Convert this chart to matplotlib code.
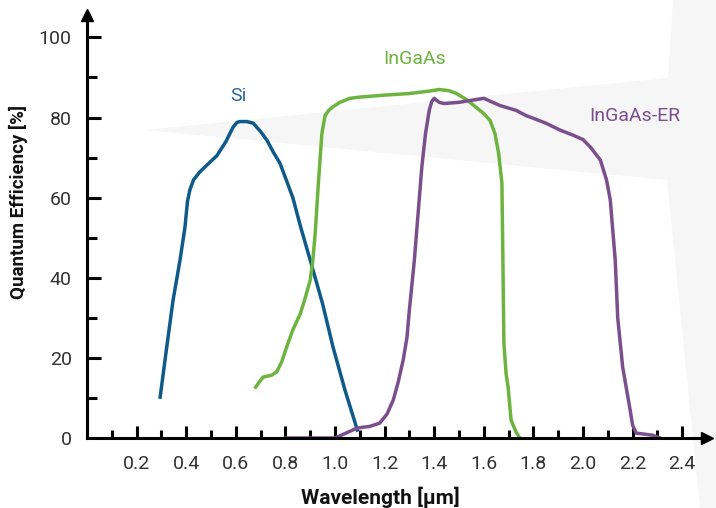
"""Quantum efficiency curves for Si, InGaAs and InGaAs-ER detectors."""

import matplotlib
matplotlib.use("Agg")
import matplotlib.pyplot as plt
from matplotlib.patches import Polygon

plt.rcParams["font.family"] = ["Roboto", "DejaVu Sans"]

# Curves (wavelength in um, QE in %)
si_wl = [0.295, 0.32, 0.347, 0.375, 0.395, 0.405, 0.415, 0.43, 0.456, 0.49, 0.524, 0.56,
         0.589, 0.605, 0.617, 0.645, 0.67, 0.70, 0.726, 0.75, 0.778, 0.80, 0.83,
         0.86, 0.90, 0.95, 0.992, 1.04, 1.09]
si_qe = [10.2, 22, 34.4, 44.4, 52.6, 59, 62, 64.5, 66.5, 68.5, 70.5, 74,
         77.6, 78.8, 79, 79, 78.6, 76.5, 74.3, 71.5, 68.6, 65, 60,
         53, 44.4, 33.5, 22.7, 12, 2]

ingaas_wl = [0.68, 0.695, 0.71, 0.745, 0.765, 0.785, 0.805, 0.83, 0.86, 0.88, 0.90,
             0.91, 0.92, 0.933, 0.947, 0.96, 0.975, 0.99, 1.02, 1.06, 1.10, 1.20, 1.30,
             1.38, 1.42, 1.46, 1.49, 1.53, 1.56, 1.60, 1.625, 1.645, 1.66, 1.673,
             1.677, 1.681, 1.69, 1.698, 1.71, 1.73, 1.745]
ingaas_qe = [12.7, 14, 15.2, 15.7, 16.5, 19, 22.7, 27, 31, 35, 39.4,
             44, 51, 63.6, 76, 80.5, 81.8, 82.6, 83.8, 84.8, 85.1, 85.6, 86,
             86.6, 87, 86.7, 86, 84.5, 83, 81, 79.3, 76, 71, 63.6,
             44.4, 23.7, 16, 12.7, 4.5, 1.5, 0]

er_wl = [0.80, 0.90, 1.00, 1.09, 1.14, 1.18, 1.21, 1.235, 1.255, 1.275, 1.29, 1.30,
         1.32, 1.335, 1.35, 1.365, 1.38, 1.39, 1.40, 1.42, 1.44, 1.50, 1.55, 1.60,
         1.665, 1.73, 1.77, 1.80, 1.85, 1.91, 1.96, 2.00, 2.03, 2.07, 2.095,
         2.11, 2.13, 2.14, 2.16, 2.19, 2.20, 2.215, 2.23, 2.28, 2.31]
er_qe = [0, 0, 0, 2.5, 2.9, 3.7, 6, 9.5, 14, 19.5, 25, 32,
         44.4, 56, 67.6, 76, 81.8, 84, 84.8, 83.8, 83.5, 83.8, 84.3, 84.8,
         83, 81.8, 80.5, 79.8, 78.6, 76.8, 75.6, 74.5, 72.6, 69.4, 64.4,
         59.4, 44.4, 30, 17.7, 7, 3.2, 1.2, 1.1, 0.7, 0]

x_ticks = [0.2, 0.4, 0.6, 0.8, 1.0, 1.2, 1.4, 1.6, 1.8, 2.0, 2.2, 2.4]
x_minor = [0.1, 0.3, 0.5, 0.7, 0.9, 1.1, 1.3, 1.5, 1.7, 1.9, 2.1, 2.3]
y_ticks = [20, 40, 60, 80, 100]
y_minor = [10, 30, 50, 70, 90]

blue = "#0d5a8b"
green = "#6db33f"
purple = "#7b4f8e"

W, H = 716, 508
fig = plt.figure(figsize=(W / 100, H / 100), dpi=100)

# faint grey backdrop shapes (figure pixels, y from top)
bg = [(145, 130), (668, 78), (673, 0), (716, 0), (716, 508), (700, 508), (667, 180)]
fig.patches.append(Polygon([(x / W, 1 - y / H) for x, y in bg], closed=True,
                           transform=fig.transFigure, facecolor="#f6f6f6",
                           edgecolor="none", zorder=-5))

ax = fig.add_axes([87 / W, 70 / H, 620 / W, 423 / H])
ax.patch.set_alpha(0)
ax.set_xlim(0, 2.5)
ax.set_ylim(0, 105.6)

ax.plot(si_wl, si_qe, color=blue, lw=2.5, solid_joinstyle="round")
ax.plot(ingaas_wl, ingaas_qe, color=green, lw=2.5, solid_joinstyle="round")
ax.plot(er_wl, er_qe, color=purple, lw=2.5, solid_joinstyle="round")

ax.text(0.61, 85.5, "Si", color="#2a6a9a", fontsize=14,
        ha="center", va="center")
ax.text(1.32, 94.5, "InGaAs", color=green, fontsize=14,
        ha="center", va="center")
ax.text(2.21, 80.5, "InGaAs-ER", color=purple, fontsize=14,
        ha="center", va="center")

for side in ["top", "right"]:
    ax.spines[side].set_visible(False)
for side in ["left", "bottom"]:
    ax.spines[side].set_linewidth(2.2)
    ax.spines[side].set_color("black")

# arrow heads at the axis ends
ax.plot([1.0], [0], marker=">", ms=9, color="black", transform=ax.transAxes, clip_on=False)
ax.plot([0], [1.0], marker="^", ms=9, color="black", transform=ax.transAxes, clip_on=False)

ax.set_xticks(x_ticks)
ax.set_xticks(x_minor, minor=True)
ax.set_xticklabels([f"{v:.1f}" for v in x_ticks])
ax.set_yticks([0] + y_ticks)
ax.set_yticks(y_minor, minor=True)
ax.set_yticklabels([str(v) for v in [0] + y_ticks])

ax.tick_params(axis="x", which="major", direction="in", length=9, width=2.2,
               pad=12, labelsize=14, labelcolor="#333333")
ax.tick_params(axis="x", which="minor", direction="in", length=6, width=2.2)
ax.tick_params(axis="y", which="major", direction="in", length=10, width=2.2,
               pad=11, labelsize=14, labelcolor="#333333")
ax.tick_params(axis="y", which="minor", direction="in", length=7, width=2.2)
# no tick mark at y = 0, only its label
ax.yaxis.get_major_ticks()[0].tick1line.set_visible(False)

fig.text(380 / W, 1 - 497 / H, "Wavelength [µm]", fontsize=15, fontweight="bold",
         ha="center", va="center", color="#111111")
fig.text(18 / W, 1 - 202 / H, "Quantum Efficiency [%]", fontsize=13.5, fontweight="bold",
         rotation=90, ha="center", va="center", color="#111111")

fig.savefig("out.png", dpi=100)
